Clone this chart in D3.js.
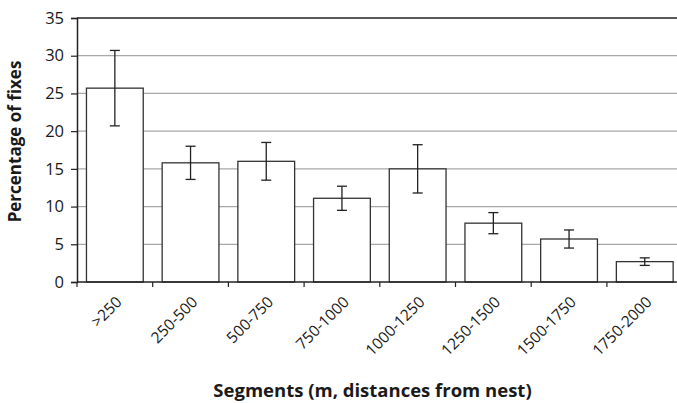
<!DOCTYPE html>
<html>
<head>
<meta charset="utf-8">
<script src="https://cdn.jsdelivr.net/npm/d3@7"></script>
<style>
  html, body { margin: 0; padding: 0; background: #fff; }
  svg { display: block; }
  text { font-family: "Open Sans", sans-serif; fill: #1a1a1a; }
</style>
</head>
<body>
<svg id="chart" width="677" height="403"></svg>
<script>
// Distance segments from the nest (m)
const segments = [">250", "250-500", "500-750", "750-1000", "1000-1250", "1250-1500", "1500-1750", "1750-2000"];
// Mean percentage of fixes per segment
const percentFixes = [25.7, 15.8, 16.0, 11.1, 15.0, 7.8, 5.7, 2.7];
// Error bar half-widths (± around the mean)
const errorHalf = [5.0, 2.2, 2.5, 1.6, 3.2, 1.4, 1.2, 0.5];
// Y-axis ticks
const yTicks = [0, 5, 10, 15, 20, 25, 30, 35];

const svg = d3.select("#chart");
const margin = { left: 77, top: 18, bottom: 282 };
const step = 75.7;
const xRight = margin.left + step * segments.length;

const x = d3.scaleBand()
  .domain(segments)
  .range([margin.left, xRight])
  .paddingInner(0.25)
  .paddingOuter(0.125);

const y = d3.scaleLinear()
  .domain([0, 35])
  .range([margin.bottom, margin.top]);

// Horizontal gridlines
svg.append("g")
  .selectAll("line")
  .data(yTicks.filter(d => d > 0 && d < 35))
  .join("line")
  .attr("x1", margin.left).attr("x2", xRight)
  .attr("y1", d => y(d)).attr("y2", d => y(d))
  .attr("stroke", "#a8a8a8").attr("stroke-width", 1.2);

// Top frame line
svg.append("line")
  .attr("x1", margin.left).attr("x2", xRight)
  .attr("y1", y(35)).attr("y2", y(35))
  .attr("stroke", "#222").attr("stroke-width", 1.3);

// Bars
svg.append("g")
  .selectAll("rect")
  .data(segments)
  .join("rect")
  .attr("x", d => x(d))
  .attr("width", x.bandwidth())
  .attr("y", (d, i) => y(percentFixes[i]))
  .attr("height", (d, i) => y(0) - y(percentFixes[i]))
  .attr("fill", "#fff")
  .attr("stroke", "#333")
  .attr("stroke-width", 1.3);

// Error bars
const eb = svg.append("g").attr("stroke", "#222").attr("stroke-width", 1.3);
segments.forEach((s, i) => {
  const cx = x(s) + x.bandwidth() / 2;
  const hi = y(percentFixes[i] + errorHalf[i]);
  const lo = y(percentFixes[i] - errorHalf[i]);
  eb.append("line").attr("x1", cx).attr("x2", cx).attr("y1", hi).attr("y2", lo);
  eb.append("line").attr("x1", cx - 5).attr("x2", cx + 5).attr("y1", hi).attr("y2", hi);
  eb.append("line").attr("x1", cx - 5).attr("x2", cx + 5).attr("y1", lo).attr("y2", lo);
});

// Y axis
const yAxis = svg.append("g")
  .attr("transform", `translate(${margin.left},0)`)
  .call(d3.axisLeft(y).tickValues(yTicks).tickSize(6).tickPadding(7));
yAxis.select(".domain").attr("stroke", "#222").attr("stroke-width", 1.5);
yAxis.selectAll(".tick line").attr("stroke", "#222").attr("stroke-width", 1.2);
yAxis.selectAll(".tick text").attr("font-size", 16.5).attr("font-family", "'Open Sans', sans-serif").attr("fill", "#1a1a1a");

// X axis line and boundary ticks
const xg = svg.append("g");
xg.append("line")
  .attr("x1", margin.left).attr("x2", xRight)
  .attr("y1", y(0)).attr("y2", y(0))
  .attr("stroke", "#222").attr("stroke-width", 1.5);
xg.selectAll("line.tick")
  .data(d3.range(segments.length + 1))
  .join("line")
  .attr("class", "tick")
  .attr("x1", i => margin.left + i * x.step())
  .attr("x2", i => margin.left + i * x.step())
  .attr("y1", y(0)).attr("y2", y(0) + 5)
  .attr("stroke", "#222").attr("stroke-width", 1.2);

// Rotated category labels
xg.selectAll("text")
  .data(segments)
  .join("text")
  .attr("text-anchor", "end")
  .attr("font-size", 15.5)
  .attr("transform", d => `translate(${x(d) + x.bandwidth() / 2 + 8},${y(0) + 21}) rotate(-45)`)
  .text(d => d);

// Axis titles
svg.append("text")
  .attr("x", 372.5).attr("y", 397)
  .attr("text-anchor", "middle")
  .attr("font-size", 18.5).attr("font-weight", "bold")
  .text("Segments (m, distances from nest)");

svg.append("text")
  .attr("transform", "translate(21,141.5) rotate(-90)")
  .attr("text-anchor", "middle")
  .attr("font-size", 17).attr("font-weight", "bold")
  .text("Percentage of fixes");
</script>
</body>
</html>
